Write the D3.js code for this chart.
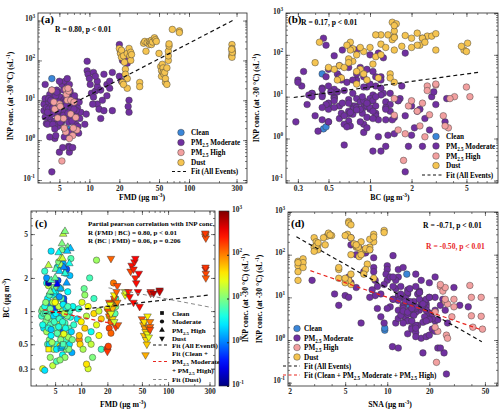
<!DOCTYPE html>
<html>
<head>
<meta charset="utf-8">
<script src="https://cdn.jsdelivr.net/npm/d3@7"></script>
<style>
  body { margin: 0; background: #fff; }
  svg { display: block; }
</style>
</head>
<body>
<script>
// one row per sample: [FMD, BC, SNA, INP conc.]
const clean = [
  [4.2, 0.45, 13.8, 35], [5.8, 0.46, 9.6, 1.7], [6.0, 0.48, 9.6, 1.9], [6.2, 0.5, 14.5, 6.3]
];
const moderate = [
  [3.5, 1.0, 14, 8], [3.5, 0.9, 16, 5.5], [3.6, 1.05, 12, 11], [3.7, 0.7, 18, 2.6], [3.7, 0.95, 13, 6.5],
  [3.8, 1.1, 15, 4], [3.9, 0.8, 11, 9], [4.0, 1.8, 20, 3.5], [4.0, 0.65, 17, 14], [4.1, 0.5, 19, 7],
  [4.1, 1.3, 22, 2.8], [4.2, 1.7, 16, 18], [4.2, 1.8, 26.5, 0.16], [4.3, 0.55, 12.5, 10], [4.3, 1.0, 14.5, 5],
  [4.4, 0.75, 10.5, 6], [4.4, 0.38, 9, 12], [4.5, 1.15, 17.5, 1.1], [4.5, 0.6, 13.5, 3], [4.6, 0.85, 15.5, 7.5],
  [4.7, 1.4, 19.5, 4.5], [4.8, 0.45, 11.5, 16], [4.8, 0.9, 16.5, 2.2], [5.0, 1.05, 18, 0.5], [5.0, 0.7, 12, 8.5],
  [5.1, 1.25, 14, 12], [5.2, 0.5, 17, 5], [5.3, 0.8, 10, 25], [5.3, 2.5, 23, 3], [5.4, 0.62, 13, 4],
  [5.5, 1.1, 11, 18], [5.6, 0.72, 15, 2], [5.7, 0.48, 12, 30], [5.8, 1.6, 18, 8], [5.9, 0.9, 14, 1.4],
  [6.0, 0.58, 16, 35], [6.0, 0.68, 20, 22], [6.1, 1.0, 11, 9], [6.1, 0.4, 13.5, 3.5], [6.2, 0.65, 10.9, 0.7],
  [6.3, 1.2, 25.5, 0.5], [6.3, 1.3, 12, 0.65], [6.4, 0.55, 14, 15], [6.5, 0.78, 19, 6], [6.6, 2.2, 16, 4.5],
  [6.7, 0.45, 12.5, 11], [6.8, 0.95, 15, 1.8], [7.0, 0.6, 13, 6], [7.0, 1.5, 21, 3.2], [7.2, 0.7, 17.5, 7],
  [7.3, 0.5, 11.5, 2.5], [7.5, 0.88, 14, 4], [7.6, 3.0, 24, 6.5], [7.8, 0.42, 16, 1.5], [8.0, 1.1, 18.5, 3.5],
  [8.2, 0.75, 12, 5], [4.5, 3.5, 27, 2.5], [5.5, 2.8, 22, 10], [6.0, 3.6, 25, 9], [4.0, 2.0, 19, 1.2],
  [3.6, 0.3, 2.9, 25], [3.8, 0.29, 9.5, 2.5], [4.7, 0.32, 8.5, 18], [5.2, 0.35, 4.5, 6.5], [6.5, 0.38, 4.2, 12],
  [5.7, 0.36, 5, 11], [7.2, 0.45, 5.3, 10], [4.3, 0.5, 6.5, 2.5], [6.6, 0.55, 8.5, 5.5], [3.9, 1.2, 8.2, 11],
  [3.6, 0.75, 15.5, 3.8], [3.9, 0.95, 17.5, 6], [4.2, 0.7, 13, 4.5], [4.4, 1.05, 18, 8], [4.6, 0.52, 14, 13],
  [4.9, 0.8, 16, 5.5], [5.1, 0.95, 12, 3.2], [5.3, 0.63, 15, 7], [5.6, 0.85, 19, 5], [5.8, 0.55, 13.5, 9.5],
  [6.0, 0.75, 16.5, 12], [6.2, 1.15, 14, 2.8], [6.4, 0.48, 18, 6.5], [6.6, 0.7, 12.5, 3.8], [6.9, 0.9, 15.5, 8],
  [7.1, 0.58, 17, 13], [7.4, 1.0, 13, 5.5], [7.7, 0.65, 16, 2.2], [4.1, 0.88, 20, 10], [5.5, 0.72, 21, 4.2],
  [6.3, 0.62, 17.5, 25], [5.9, 1.3, 18.5, 7.5], [4.7, 1.2, 14.5, 16], [6.1, 0.8, 13, 4.8], [7.9, 0.55, 19, 9],
  [5.2, 0.45, 15, 2.8], [4.5, 0.68, 16, 1.9], [6.7, 1.05, 20, 3], [5.0, 1.2, 22, 30], [6.4, 0.95, 30, 17],
  [4.3, 1.4, 33, 6.5], [7.0, 1.1, 38, 6], [4.6, 1.5, 20, 1.3], [5.4, 1.9, 23, 0.65], [6.8, 2.4, 24, 0.65],
  [5.1, 1.45, 19, 2.8], [7.4, 2.1, 21, 1.8], [3.8, 2.3, 26, 5], [4.9, 1.65, 17, 9], [6.2, 2.7, 22, 1.6],
  [5.6, 1.35, 16, 1.2],
  [9.5, 0.55, 11, 95], [9.5, 0.6, 10, 55], [9.7, 0.5, 10, 45], [9.3, 1.05, 14, 4.5], [9.0, 0.85, 13, 2.5],
  [10, 0.8, 9.8, 35], [10.2, 1.2, 11.5, 25], [10.5, 0.45, 7.8, 15], [11, 0.7, 8, 50], [11, 1.4, 12.5, 12],
  [11.5, 0.9, 6, 17], [12, 0.3, 5.5, 22], [12, 0.55, 13.5, 8], [12, 1.1, 10.5, 30], [12.5, 2.0, 16, 6],
  [13, 0.65, 9, 3.5], [13.5, 0.38, 7.5, 10], [14, 0.95, 12, 45], [14, 1.3, 15, 5.5], [15, 0.75, 8.2, 25],
  [15, 2.9, 17, 13], [16, 1.0, 9.5, 20], [16, 0.6, 11, 30], [17, 0.85, 13, 50], [17, 0.45, 10, 5.5],
  [11.5, 0.33, 6.8, 40], [10.8, 1.6, 14.5, 8], [13, 0.5, 12.5, 18],
  [20, 0.46, 5.5, 250], [20.5, 0.48, 5.5, 170], [21, 0.7, 6.2, 170], [21.5, 1.0, 6, 100], [22, 0.63, 6.5, 130],
  [22, 0.8, 7.5, 130], [23, 1.15, 6.8, 110], [24, 1.25, 8, 85], [23.5, 1.8, 7, 110], [25, 1.1, 20, 10],
  [25, 1.3, 22, 5], [24.5, 0.95, 18, 7], [20, 1.05, 8, 40], [21, 0.9, 5.3, 30]
];
const high = [
  [4.2, 2.6, 24, 18], [4.5, 1.9, 30, 6], [5.0, 2.0, 26, 8], [5.1, 2.4, 27, 7], [5.5, 3.4, 29, 3.5],
  [5.8, 3.0, 39, 19], [5.9, 2.6, 25, 14], [6.0, 4.1, 40, 10], [6.2, 5.0, 26, 17], [6.5, 5.3, 47, 10],
  [6.5, 2.2, 22, 4.5], [7.0, 3.8, 26, 9], [7.3, 2.7, 40, 3.7], [6.8, 1.8, 26.5, 1.3], [7.5, 3.7, 48, 1.8],
  [6.3, 2.5, 27, 1.1], [5.3, 1.75, 22.5, 0.3], [5.8, 1.6, 23, 1.6], [6.9, 3.5, 41, 2], [4.8, 1.5, 47, 3.6],
  [5.6, 2.3, 22, 2], [4.4, 1.5, 30, 9], [6.1, 3.0, 24, 20]
];
const dust = [
  [20, 0.43, 6.5, 200], [20.5, 1.0, 6, 150], [21, 1.2, 5.8, 180], [21, 0.9, 6.5, 120], [22, 3.0, 7, 130],
  [22.5, 1.1, 6.3, 90], [23, 1.05, 7.2, 60], [23, 0.85, 7, 45], [24, 1.3, 7.5, 150], [24, 1.4, 6.8, 35],
  [25, 0.72, 8, 200], [25.5, 1.5, 7.2, 130], [26, 1.7, 6, 160], [26, 1.2, 5.5, 100], [26.5, 0.75, 7, 140],
  [24, 0.8, 5.5, 20], [21.5, 1.15, 8, 28], [22, 0.95, 5.3, 25], [32, 1.4, 4.5, 28], [32, 1.5, 5, 22],
  [35, 1.5, 3.7, 270], [36, 1.35, 3.8, 300], [37, 2.3, 3.6, 170], [38, 2.6, 4, 280], [40, 2.4, 3.5, 250],
  [40, 1.2, 5.2, 300], [41, 2.8, 5, 280], [42, 3.0, 3.8, 320], [42, 2.0, 5.5, 250], [43, 1.8, 3.9, 290],
  [45, 1.5, 9.5, 370], [46, 2.2, 9.5, 330], [47, 1.1, 8, 300], [50, 0.85, 6.2, 150], [52, 0.75, 2.3, 70],
  [53, 0.6, 2.3, 55], [53, 0.8, 2.3, 40], [54, 0.7, 2.5, 80], [55, 0.4, 2.5, 65], [55, 0.65, 2.5, 50],
  [56, 0.55, 4.5, 45], [57, 0.5, 4.5, 50], [58, 0.62, 5, 28], [58, 0.9, 5.5, 35], [60, 0.58, 2.3, 25],
  [60, 0.7, 2.3, 65], [62, 0.8, 6.5, 100], [62, 0.72, 7.5, 130], [62, 0.68, 6, 170], [63, 1.45, 7.5, 230],
  [63, 1.5, 8, 260], [68, 1.45, 5.3, 600], [80, 1.55, 5.3, 550], [80, 1.5, 5.5, 500], [270, 2.4, 3.0, 250],
  [270, 2.5, 3.1, 200], [272, 2.2, 3.2, 170], [272, 2.0, 3.0, 150], [268, 4.8, 3.2, 130], [270, 5.0, 3.0, 120],
  [272, 4.6, 3.1, 160], [268, 5.1, 3.2, 190]
];

// fitted lines in log10 space: [intercept, slope], and x extent
const fitA = [-0.168, 1.30], fitARange = [3.4, 290];
const fitB = [1.229, 0.45], fitBRange = [0.28, 6.3];
const fitCAll = [-0.072, 0.088], fitCAllRange = [3.7, 300];
const fitCNoDust = [0.102, -0.158], fitCNoDustRange = [3.66, 23.5];
const fitCDust = [0.408, -0.150], fitCDustRange = [20.6, 320];
const fitDAll = [3.069, -1.853], fitDAllRange = [2.24, 47.5];
const fitDNoDust = [2.135, -1.133], fitDNoDustRange = [2.82, 47.5];

const fmdTicks = [5, 10, 20, 50, 100, 300];
const bcTicksB = [0.3, 0.5, 1, 2, 5];
const bcTicksC = [0.3, 0.5, 1, 2, 5];
const snaTicks = [2, 5, 10, 20, 50];
const inpTicks = [0.1, 1, 10, 100, 1000];

const font = "'Liberation Serif', 'Times New Roman', serif";
const purple = '#7030a0', pink = '#f2a0a0', yellow = '#f5c451', blue = '#3a86d8';
const red = '#e8261f';
const fs = { tick: 7.5, axis: 7.8, legend: 7.2, note: 7.6, letter: 11 };

const svg = d3.select('body').append('svg')
  .attr('width', 500).attr('height', 413)
  .attr('font-family', font).attr('font-weight', 'bold');

// text with sub / superscripts
function rich(t, parts) {
  let shift = 0;
  parts.forEach(p => {
    const [s, k] = Array.isArray(p) ? p : [p, null];
    const want = k === 'sup' ? -3 : k === 'sub' ? 2 : 0;
    const ts = t.append('tspan').text(s).attr('dy', want - shift);
    if (k) ts.attr('font-size', '70%');
    shift = want;
  });
  return t;
}

function jet(t) {
  const c = v => Math.round(255 * Math.max(0, Math.min(1, v)));
  return `rgb(${c(1.5 - Math.abs(4 * t - 3))},${c(1.5 - Math.abs(4 * t - 2))},${c(1.5 - Math.abs(4 * t - 1))})`;
}

function panel(box, xDom, yDom, xMajor, yMajor, ySup) {
  const x = d3.scaleLog().domain(xDom).range([box.x0, box.x1]);
  const y = d3.scaleLog().domain(yDom).range([box.y1, box.y0]);
  const g = svg.append('g');
  const marks = g.append('g');
  const ax = g.append('g');
  const noDomain = a => a.select('.domain').remove();

  [[d3.axisBottom, box.y1, true], [d3.axisTop, box.y0, false]].forEach(([f, pos, lab]) => {
    ax.append('g').attr('transform', `translate(0,${pos})`)
      .call(f(x).tickValues(x.ticks()).tickSize(-2).tickFormat('')).call(noDomain);
    ax.append('g').attr('transform', `translate(0,${pos})`)
      .call(f(x).tickValues(xMajor).tickSize(-4).tickPadding(3).tickFormat(lab ? d => d : '')).call(noDomain);
  });
  [[d3.axisLeft, box.x0, true], [d3.axisRight, box.x1, false]].forEach(([f, pos, lab]) => {
    ax.append('g').attr('transform', `translate(${pos},0)`)
      .call(f(y).tickValues(y.ticks()).tickSize(-2).tickFormat('')).call(noDomain);
    const a = ax.append('g').attr('transform', `translate(${pos},0)`)
      .call(f(y).tickValues(yMajor).tickSize(-4).tickPadding(3)
        .tickFormat(lab && !ySup ? d => d : '')).call(noDomain);
    if (lab && ySup) {
      a.selectAll('.tick text').each(function (d) {
        rich(d3.select(this), ['10', [String(Math.round(Math.log10(d))), 'sup']]);
      });
    }
  });
  ax.selectAll(':scope > g')
    .attr('font-family', font).attr('font-size', fs.tick).attr('font-weight', 'bold')
    .attr('color', '#262626');
  ax.selectAll('.tick line').attr('stroke-width', 0.6);
  ax.append('rect')
    .attr('x', box.x0).attr('y', box.y0)
    .attr('width', box.x1 - box.x0).attr('height', box.y1 - box.y0)
    .attr('fill', 'none').attr('stroke', '#262626').attr('stroke-width', 0.8);
  return { g, marks, x, y };
}

function fitLine(p, fit, range, color, dash, width) {
  const f = v => Math.pow(10, fit[0] + fit[1] * Math.log10(v));
  p.marks.append('line').attr('class', 'fit')
    .attr('x1', p.x(range[0])).attr('y1', p.y(f(range[0])))
    .attr('x2', p.x(range[1])).attr('y2', p.y(f(range[1])))
    .attr('stroke', color).attr('stroke-width', width || 1.2)
    .attr('stroke-dasharray', dash || '4,3');
}

function dots(p, rows, xi, color) {
  p.marks.append('g').selectAll('circle').data(rows).join('circle')
    .attr('cx', d => p.x(d[xi])).attr('cy', d => p.y(d[3]))
    .attr('r', 3.3).attr('fill', color)
    .attr('stroke', '#3a3a3a').attr('stroke-width', 0.45);
}

const groups = [[clean, blue], [moderate, purple], [high, pink], [dust, yellow]];
const catLabels = [['Clean'], ['PM', ['2.5', 'sub'], ' Moderate'], ['PM', ['2.5', 'sub'], ' High'], ['Dust']];

function legend(g, cx, tx, ys, lx, fits) {
  catLabels.forEach((t, i) => {
    g.append('circle').attr('cx', cx).attr('cy', ys[i]).attr('r', 3.3)
      .attr('fill', groups[i][1]).attr('stroke', '#3a3a3a').attr('stroke-width', 0.45);
    rich(g.append('text').attr('x', tx).attr('y', ys[i] + 2.5).attr('font-size', fs.legend), t);
  });
  fits.forEach(([c, t], j) => {
    const yy = ys[4 + j];
    g.append('line').attr('x1', lx[0]).attr('x2', lx[1]).attr('y1', yy).attr('y2', yy)
      .attr('stroke', c).attr('stroke-width', 1.2).attr('stroke-dasharray', '3,2.5');
    rich(g.append('text').attr('x', tx).attr('y', yy + 2.5).attr('font-size', fs.legend), t);
  });
}

function label(x, y, parts, rotate) {
  const t = svg.append('text').attr('text-anchor', 'middle').attr('font-size', fs.axis)
    .attr('transform', `translate(${x},${y})` + (rotate ? ' rotate(-90)' : ''));
  return rich(t, parts);
}

const inpLabel = ['INP conc. (at -30 °C) (sL', ['-1', 'sup'], ')'];

// ---------- (a) FMD vs INP ----------
const pa = panel({ x0: 38, x1: 247, y0: 13, y1: 183 }, [3.05, 382],
  [Math.pow(10, -1.075), Math.pow(10, 3.19)], fmdTicks, inpTicks, true);
groups.forEach(([rows, c]) => dots(pa, rows, 0, c));
fitLine(pa, fitA, fitARange, '#111');
legend(pa.g, 181, 191, [132.5, 142.5, 152.5, 162.5, 171.5], [172, 187], [['#111', ['Fit (All Events)']]]);
pa.g.append('text').attr('x', 41).attr('y', 23).attr('font-size', fs.letter).text('(a)');
pa.g.append('text').attr('x', 55).attr('y', 32).attr('font-size', fs.note).text('R = 0.80, p < 0.01');
label(142, 200, ['FMD (μg m', ['-3', 'sup'], ')']);
label(13, 96, inpLabel, true);

// ---------- (b) BC vs INP ----------
const pb = panel({ x0: 286, x1: 498, y0: 13, y1: 183 }, [0.246, 8.47],
  [Math.pow(10, -1.063), 1000], bcTicksB, inpTicks, true);
groups.forEach(([rows, c]) => dots(pb, rows, 1, c));
fitLine(pb, fitB, fitBRange, '#111');
legend(pb.g, 436, 446, [136.5, 146, 156, 165.5, 175], [422, 442], [['#111', ['Fit (All Events)']]]);
pb.g.append('text').attr('x', 288).attr('y', 23).attr('font-size', fs.letter).text('(b)');
pb.g.append('text').attr('x', 301).attr('y', 25).attr('font-size', fs.note).text('R = 0.17, p < 0.01');
label(390, 200, ['BC  (μg m', ['-3', 'sup'], ')']);
label(259, 98, inpLabel, true);

// ---------- (c) FMD vs BC coloured by INP ----------
const pc = panel({ x0: 31, x1: 215, y0: 211, y1: 386 }, [2.64, 347], [0.209, 8.1],
  fmdTicks, bcTicksC, false);
const inpT = v => (Math.log10(v) + 1) / 4;
const shapes = [
  [moderate, d3.symbolCircle, 32, 0],
  [clean, d3.symbolSquare, 28, 0],
  [high, d3.symbolTriangle, 25, 0],
  [dust, d3.symbolTriangle, 25, 180]
];
shapes.forEach(([rows, type, size, rot]) => {
  pc.marks.append('g').selectAll('path').data(rows).join('path')
    .attr('d', d3.symbol().type(type).size(size))
    .attr('transform', d => `translate(${pc.x(d[0])},${pc.y(d[1])}) rotate(${rot})`)
    .attr('fill', d => jet(inpT(d[3])))
    .attr('stroke', '#333').attr('stroke-width', 0.45);
});
fitLine(pc, fitCAll, fitCAllRange, '#111');
fitLine(pc, fitCNoDust, fitCNoDustRange, red);
fitLine(pc, fitCDust, fitCDustRange, '#8a8a8a', '4,3', 1);
pc.g.append('text').attr('x', 35).attr('y', 227).attr('font-size', fs.letter).text('(c)');
[['Partial pearson correlation with INP conc.', 226], ['R (FMD | BC) = 0.80, p < 0.01', 234.5],
 ['R (BC | FMD) = 0.06, p = 0.206', 243]].forEach(([t, yy]) =>
  pc.g.append('text').attr('x', 88).attr('y', yy).attr('font-size', 7).text(t));
// legend (c)
const lc = pc.g.append('g').attr('font-size', 7);
[[d3.symbolSquare, 0, 313, ['Clean']], [d3.symbolCircle, 0, 321.5, ['Moderate']],
 [d3.symbolTriangle, 0, 330, ['PM', ['2.5', 'sub'], ' High']], [d3.symbolTriangle, 180, 338.5, ['Dust']]]
  .forEach(([type, rot, yy, t]) => {
    lc.append('path').attr('d', d3.symbol().type(type).size(14))
      .attr('transform', `translate(162,${yy}) rotate(${rot})`).attr('fill', '#111');
    rich(lc.append('text').attr('x', 172).attr('y', yy + 2.5), t);
  });
[['#111', 345, 1.2], [red, 361.5, 1.2], ['#8a8a8a', 379.5, 1]]
  .forEach(([c, yy, w]) => lc.append('line').attr('x1', 153).attr('x2', 168)
    .attr('y1', yy).attr('y2', yy).attr('stroke', c).attr('stroke-width', w).attr('stroke-dasharray', '3,2.5'));
[[['Fit (All Events)'], 345], [['Fit (Clean +'], 353], [['PM', ['2.5', 'sub'], ' Moderate'], 361.5],
 [['+ PM', ['2.5', 'sub'], ' High)'], 370], [['Fit (Dust)'], 379.5]]
  .forEach(([t, yy]) => rich(lc.append('text').attr('x', 172).attr('y', yy + 2.5), t));
label(123, 407, ['FMD (μg m', ['-3', 'sup'], ')']);
label(9, 298, ['BC (μg m', ['-3', 'sup'], ')'], true);

// colorbar
const defs = svg.append('defs');
const grad = defs.append('linearGradient').attr('id', 'jet')
  .attr('x1', 0).attr('y1', 1).attr('x2', 0).attr('y2', 0);
d3.range(0, 1.0001, 0.05).forEach(t =>
  grad.append('stop').attr('offset', t).attr('stop-color', jet(t)));
const cb = d3.scaleLog().domain([0.1, 1000]).range([386, 211]);
svg.append('rect').attr('x', 219).attr('y', 211).attr('width', 10).attr('height', 175)
  .attr('fill', 'url(#jet)').attr('stroke', '#262626').attr('stroke-width', 0.6);
const cbAxis = svg.append('g').attr('transform', 'translate(229,0)')
  .call(d3.axisRight(cb).tickValues(inpTicks).tickSize(-2).tickPadding(3).tickFormat(''))
  .call(a => a.select('.domain').remove());
cbAxis.attr('font-family', font).attr('font-size', fs.tick).attr('font-weight', 'bold').attr('color', '#262626');
cbAxis.selectAll('.tick text').each(function (d) {
  rich(d3.select(this), ['10', [String(Math.round(Math.log10(d))), 'sup']]);
});
label(248, 298, inpLabel, true);

// ---------- (d) SNA vs INP ----------
const pd = panel({ x0: 288, x1: 498, y0: 212, y1: 386 }, [1.95, 62],
  [Math.pow(10, -1.077), 1000], snaTicks, inpTicks, true);
groups.forEach(([rows, c]) => dots(pd, rows, 2, c));
fitLine(pd, fitDAll, fitDAllRange, '#111');
fitLine(pd, fitDNoDust, fitDNoDustRange, red);
legend(pd.g, 297, 304, [328.5, 338, 347.5, 357, 366, 375], [283, 300],
  [['#111', ['Fit (All Events)']],
   [red, ['Fit (Clean + PM', ['2.5', 'sub'], ' Moderate + PM', ['2.5', 'sub'], ' High)']]]);
pd.g.append('text').attr('x', 291).attr('y', 227).attr('font-size', fs.letter).text('(d)');
pd.g.append('text').attr('x', 423).attr('y', 228).attr('font-size', fs.note).text('R = -0.71, p < 0.01');
pd.g.append('text').attr('x', 426).attr('y', 249).attr('font-size', fs.note).attr('fill', red)
  .text('R = -0.50, p < 0.01');
label(390, 407, ['SNA (μg m', ['-3', 'sup'], ')']);
label(262, 299, inpLabel, true);
</script>
</body>
</html>
